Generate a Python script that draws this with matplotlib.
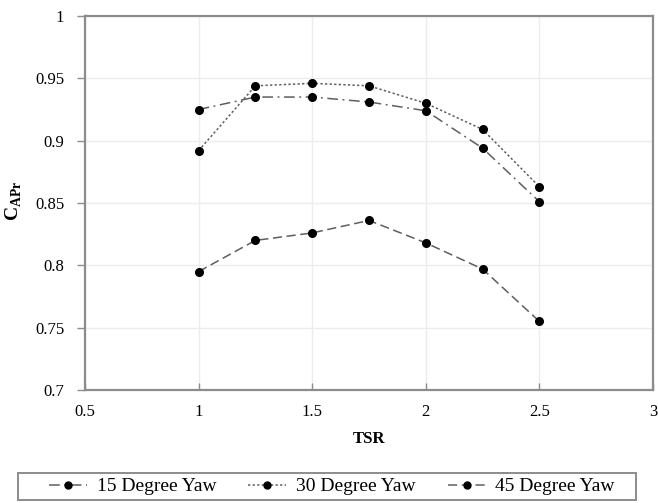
import matplotlib
matplotlib.use("Agg")
import matplotlib.pyplot as plt
from matplotlib.lines import Line2D
from matplotlib.patches import Rectangle

plt.rcParams['font.family'] = ['Liberation Serif', 'DejaVu Serif']
plt.rcParams['mathtext.fontset'] = 'custom'
plt.rcParams['mathtext.rm'] = 'Liberation Serif'
plt.rcParams['mathtext.bf'] = 'Liberation Serif:bold'

tsr = [1.0, 1.25, 1.5, 1.75, 2.0, 2.25, 2.5]
yaw15 = [0.925, 0.935, 0.935, 0.931, 0.924, 0.894, 0.851]
yaw30 = [0.892, 0.944, 0.946, 0.944, 0.930, 0.909, 0.863]
yaw45 = [0.795, 0.820, 0.826, 0.836, 0.818, 0.797, 0.755]
labels = ['15 Degree Yaw', '30 Degree Yaw', '45 Degree Yaw']

x_ticks = [0.5, 1, 1.5, 2, 2.5, 3]
x_tick_labels = ['0.5', '1', '1.5', '2', '2.5', '3']
y_ticks = [0.7, 0.75, 0.8, 0.85, 0.9, 0.95, 1.0]
y_tick_labels = ['0.7', '0.75', '0.8', '0.85', '0.9', '0.95', '1']

W, H = 658, 503
fig = plt.figure(figsize=(W / 100, H / 100), dpi=100)
ax = fig.add_axes([85 / W, 113 / H, 568 / W, 374 / H])

line_color = '#5e5e5e'
styles = [(0, (7, 3, 1.2, 3)), (0, (1.5, 1.5)), (0, (6, 3))]
series = [yaw15, yaw30, yaw45]
handles = []
for vals, ls, lab in zip(series, styles, labels):
    ax.plot(tsr, vals, linestyle=ls, color=line_color, linewidth=1.1, zorder=2)
    ax.plot(tsr, vals, linestyle='none', marker='o', markersize=5.5,
            color='black', zorder=3)
    handles.append(Line2D([], [], linestyle=ls, color=line_color, linewidth=1.1,
                          marker='o', markersize=5, markerfacecolor='black',
                          markeredgecolor='black'))

ax.set_xlim(0.5, 3)
ax.set_ylim(0.7, 1.0)
ax.set_xticks(x_ticks)
ax.set_xticklabels(x_tick_labels)
ax.set_yticks(y_ticks)
ax.set_yticklabels(y_tick_labels)
ax.grid(True, color='#ececec', linewidth=1.0, zorder=0)
ax.set_axisbelow(True)

for sp in ax.spines.values():
    sp.set_color('#8c8c8c')
    sp.set_linewidth(1.6)

ax.tick_params(axis='x', direction='in', length=5, width=1, color='#8c8c8c',
               labelsize=12, pad=10)
ax.tick_params(axis='y', direction='out', length=6, width=1, color='#8c8c8c',
               labelsize=12, pad=9)

ax.set_xlabel('TSR', fontsize=12, fontweight='bold', labelpad=8)
fig.text(14 / W, 1 - 201 / H, r'$\mathbf{C}_{\mathbf{APr}}$', rotation=90,
         fontsize=14, ha='center', va='center')

# legend box drawn separately so the entries sit centred inside a wider frame
fig.patches.append(Rectangle((18 / W, 3 / H), 618 / W, 27 / H,
                             transform=fig.transFigure, fill=False,
                             edgecolor='#8c8c8c', linewidth=1.4))
leg = fig.legend(handles, labels, loc='center', ncol=3,
                 bbox_to_anchor=(332 / W, 1 - 486.5 / H),
                 frameon=False, fontsize=14,
                 handlelength=1.95, handletextpad=0.5, columnspacing=1.65,
                 borderpad=0.2)

fig.savefig('out.png', dpi=100)
